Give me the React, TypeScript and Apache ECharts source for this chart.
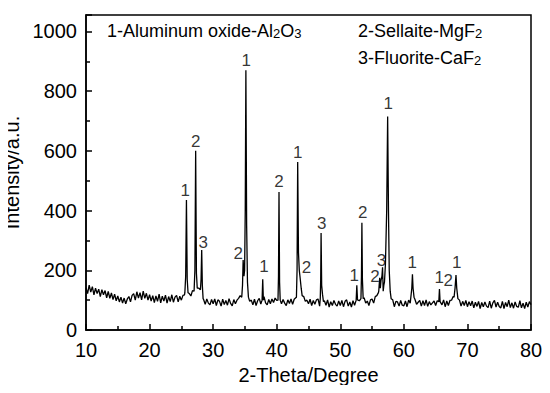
import React, { useEffect, useRef } from "react";
import * as echarts from "echarts";

// Baseline intensities, 2θ from 10 to 80 in 0.25° steps
const baseStart = 10;
const baseStep = 0.25;
const baseline: number[] = [
  142,122,150,127,145,118,140,122,137,112,135,118,132,108,129,106,124,102,120,98,
  114,94,110,90,107,88,104,112,94,116,122,100,128,107,125,101,130,106,123,100,
  118,97,115,92,114,96,120,91,113,97,117,90,112,95,118,93,110,116,94,113,
  100,116,118,125,130,122,114,132,135,126,132,140,116,101,102,86,104,90,84,102,
  88,104,82,101,96,80,103,85,99,83,105,89,81,102,88,100,106,115,130,160,
  200,150,112,96,100,84,103,82,98,106,87,101,112,91,84,102,88,104,92,107,
  99,83,105,88,102,90,82,101,89,104,86,103,108,130,160,140,125,112,96,100,
  88,103,82,99,86,101,104,80,92,85,98,83,101,77,95,82,99,86,80,97,
  82,99,78,96,101,80,94,77,98,83,96,100,98,92,100,108,90,97,82,101,
  104,90,112,115,125,150,170,140,200,300,120,95,82,101,78,96,94,80,99,83,
  81,97,78,100,90,100,110,102,86,93,99,80,98,82,101,79,95,84,91,97,
  82,98,86,96,84,101,78,97,82,99,100,112,120,130,110,100,80,96,82,99,
  78,95,81,97,74,93,79,96,72,92,78,94,80,75,97,73,91,99,77,93,
  79,74,96,72,92,78,100,75,91,73,94,79,76,98,74,90,72,93,77,95,
  85,
];

// Diffraction peaks: [2θ, intensity] points
const peak25: number[][] = [[25.55,125],[25.68,180],[25.8,435],[25.92,170],[26.05,125]];
const peak27: number[][] = [[27.0,130],[27.13,200],[27.25,600],[27.37,190],[27.5,140]];
const peak28: number[][] = [[28.0,135],[28.1,170],[28.2,268],[28.3,150],[28.42,105]];
const peak35: number[][] = [[34.5,110],[34.62,150],[34.72,234],[34.85,180],[34.95,200],[35.05,400],[35.15,870],[35.27,350],[35.4,160],[35.55,110]];
const peak38: number[][] = [[37.7,100],[37.8,170],[37.9,100]];
const peak40: number[][] = [[40.2,100],[40.28,180],[40.36,462],[40.45,160],[40.55,100]];
const peak43: number[][] = [[43.1,110],[43.2,200],[43.3,563],[43.42,260],[43.55,200],[43.68,175],[43.85,140],[44.0,115]];
const peak47: number[][] = [[46.85,105],[46.92,170],[46.98,325],[47.07,150],[47.2,120],[47.35,95]];
const peak52: number[][] = [[52.5,100],[52.6,150],[52.7,105]];
const peak53: number[][] = [[53.25,105],[53.33,180],[53.4,359],[53.48,170],[53.6,105]];
const peak57: number[][] = [[56.05,130],[56.2,175],[56.3,140],[56.4,165],[56.55,180],[56.65,210],[56.75,130],[56.85,150],[56.95,160],[57.1,220],[57.3,400],[57.45,715],[57.58,400],[57.7,200],[57.85,130],[58.0,105]];
const peak61: number[][] = [[61.1,110],[61.25,140],[61.35,187],[61.45,140],[61.6,110]];
const peak65: number[][] = [[65.5,95],[65.6,137],[65.7,95]];
const peak68: number[][] = [[67.9,110],[68.05,140],[68.2,184],[68.32,140],[68.5,105]];
const peaks = [peak25, peak27, peak28, peak35, peak38, peak40, peak43, peak47, peak52, peak53, peak57, peak61, peak65, peak68];

// Peak phase labels: 2θ, intensity, text
const labelX: number[] = [25.6, 27.25, 28.45, 33.96, 35.2, 38.0, 40.36, 43.3, 44.7, 47.08, 52.2, 53.53, 55.46, 56.5, 57.56, 61.33, 65.58, 67.0, 68.3];
const labelY: number[] = [468, 633, 292, 256, 903, 214, 496, 596, 210, 357, 184, 394, 178, 234, 759, 225, 176, 167, 225];
const labelText: string[] = ["1","2","3","2","1","1","2","1","2","3","1","2","2","3","1","1","1","2","1"];

const xTicks = [10, 20, 30, 40, 50, 60, 70, 80];
const yTicks = [0, 200, 400, 600, 800, 1000];

const FONT = "'Liberation Sans', Arial, sans-serif";

function buildSeries(): number[][] {
  const pts: number[][] = [];
  baseline.forEach((v, i) => {
    const x = baseStart + i * baseStep;
    const inPeak = peaks.some((p) => x >= p[0][0] && x <= p[p.length - 1][0]);
    if (!inPeak) pts.push([x, v]);
  });
  peaks.forEach((p) => p.forEach((pt) => pts.push(pt)));
  pts.sort((a, b) => a[0] - b[0]);
  return pts;
}

const subRich = { s: { fontSize: 13, fontFamily: FONT, fill: "#000", padding: [4, 0, 0, 0] } };

export default function App() {
  const ref = useRef<HTMLDivElement>(null);
  useEffect(() => {
    if (!ref.current) return;
    const chart = echarts.init(ref.current, undefined, { renderer: "svg" });
    const data = buildSeries();
    chart.setOption({
      animation: false,
      backgroundColor: "#fff",
      textStyle: { fontFamily: FONT },
      grid: {
        left: 86,
        right: 19,
        top: 15,
        bottom: 63,
        show: true,
        borderColor: "#000",
        borderWidth: 1.5,
        backgroundColor: "transparent",
        containLabel: false,
        outerBoundsMode: "none",
      },
      xAxis: {
        type: "value",
        min: xTicks[0],
        max: xTicks[xTicks.length - 1],
        interval: 10,
        name: "2-Theta/Degree",
        nameLocation: "middle",
        nameGap: 35,
        nameTextStyle: { fontSize: 20, color: "#000", fontFamily: FONT },
        axisLine: { show: true, lineStyle: { color: "#000", width: 1.5 } },
        axisTick: { show: true, inside: true, length: 6, lineStyle: { color: "#000", width: 1.5 } },
        minorTick: { show: true, splitNumber: 2, length: 4, lineStyle: { color: "#000", width: 1.5 } },
        axisLabel: { fontSize: 20, color: "#000", margin: 10, fontFamily: FONT },
        splitLine: { show: false },
      },
      yAxis: {
        type: "value",
        min: yTicks[0],
        max: 1055,
        interval: 200,
        name: "Intensity/a.u.",
        nameLocation: "middle",
        nameGap: 52,
        nameTextStyle: { fontSize: 20, color: "#000", fontFamily: FONT },
        axisLine: { show: true, lineStyle: { color: "#000", width: 1.5 } },
        axisTick: { show: true, inside: true, length: 6, lineStyle: { color: "#000", width: 1.5 } },
        minorTick: { show: true, splitNumber: 2, length: 4, lineStyle: { color: "#000", width: 1.5 } },
        axisLabel: {
          fontSize: 20,
          color: "#000",
          margin: 9,
          fontFamily: FONT,
          showMaxLabel: false,
          formatter: (v: number) => (yTicks.indexOf(v) >= 0 ? String(v) : ""),
        },
        splitLine: { show: false },
      },
      series: [
        {
          type: "line",
          data,
          symbol: "none",
          lineStyle: { color: "#000", width: 1.3 },
          z: 3,
        },
        {
          type: "scatter",
          symbolSize: 0,
          itemStyle: { color: "#000" },
          data: labelX.map((x, i) => ({ value: [x, labelY[i]], name: labelText[i] })),
          label: {
            show: true,
            position: "inside",
            formatter: (p: any) => p.name,
            fontSize: 17,
            color: "#000",
            textBorderWidth: 0,
            fontFamily: FONT,
          },
          z: 4,
        },
      ],
      graphic: [
        {
          type: "text",
          x: 107,
          y: 31,
          style: {
            text: "1-Aluminum oxide-Al{s|2}O{s|3}",
            fontSize: 18,
            fontFamily: FONT,
            fill: "#000",
            verticalAlign: "middle",
            rich: subRich,
          },
        },
        {
          type: "text",
          x: 358,
          y: 31,
          style: {
            text: "2-Sellaite-MgF{s|2}",
            fontSize: 18,
            fontFamily: FONT,
            fill: "#000",
            verticalAlign: "middle",
            rich: subRich,
          },
        },
        {
          type: "text",
          x: 358,
          y: 58,
          style: {
            text: "3-Fluorite-CaF{s|2}",
            fontSize: 18,
            fontFamily: FONT,
            fill: "#000",
            verticalAlign: "middle",
            rich: subRich,
          },
        },
      ],
    });
    return () => chart.dispose();
  }, []);
  return <div ref={ref} style={{ width: 550, height: 393, margin: -8 }} />;
}
